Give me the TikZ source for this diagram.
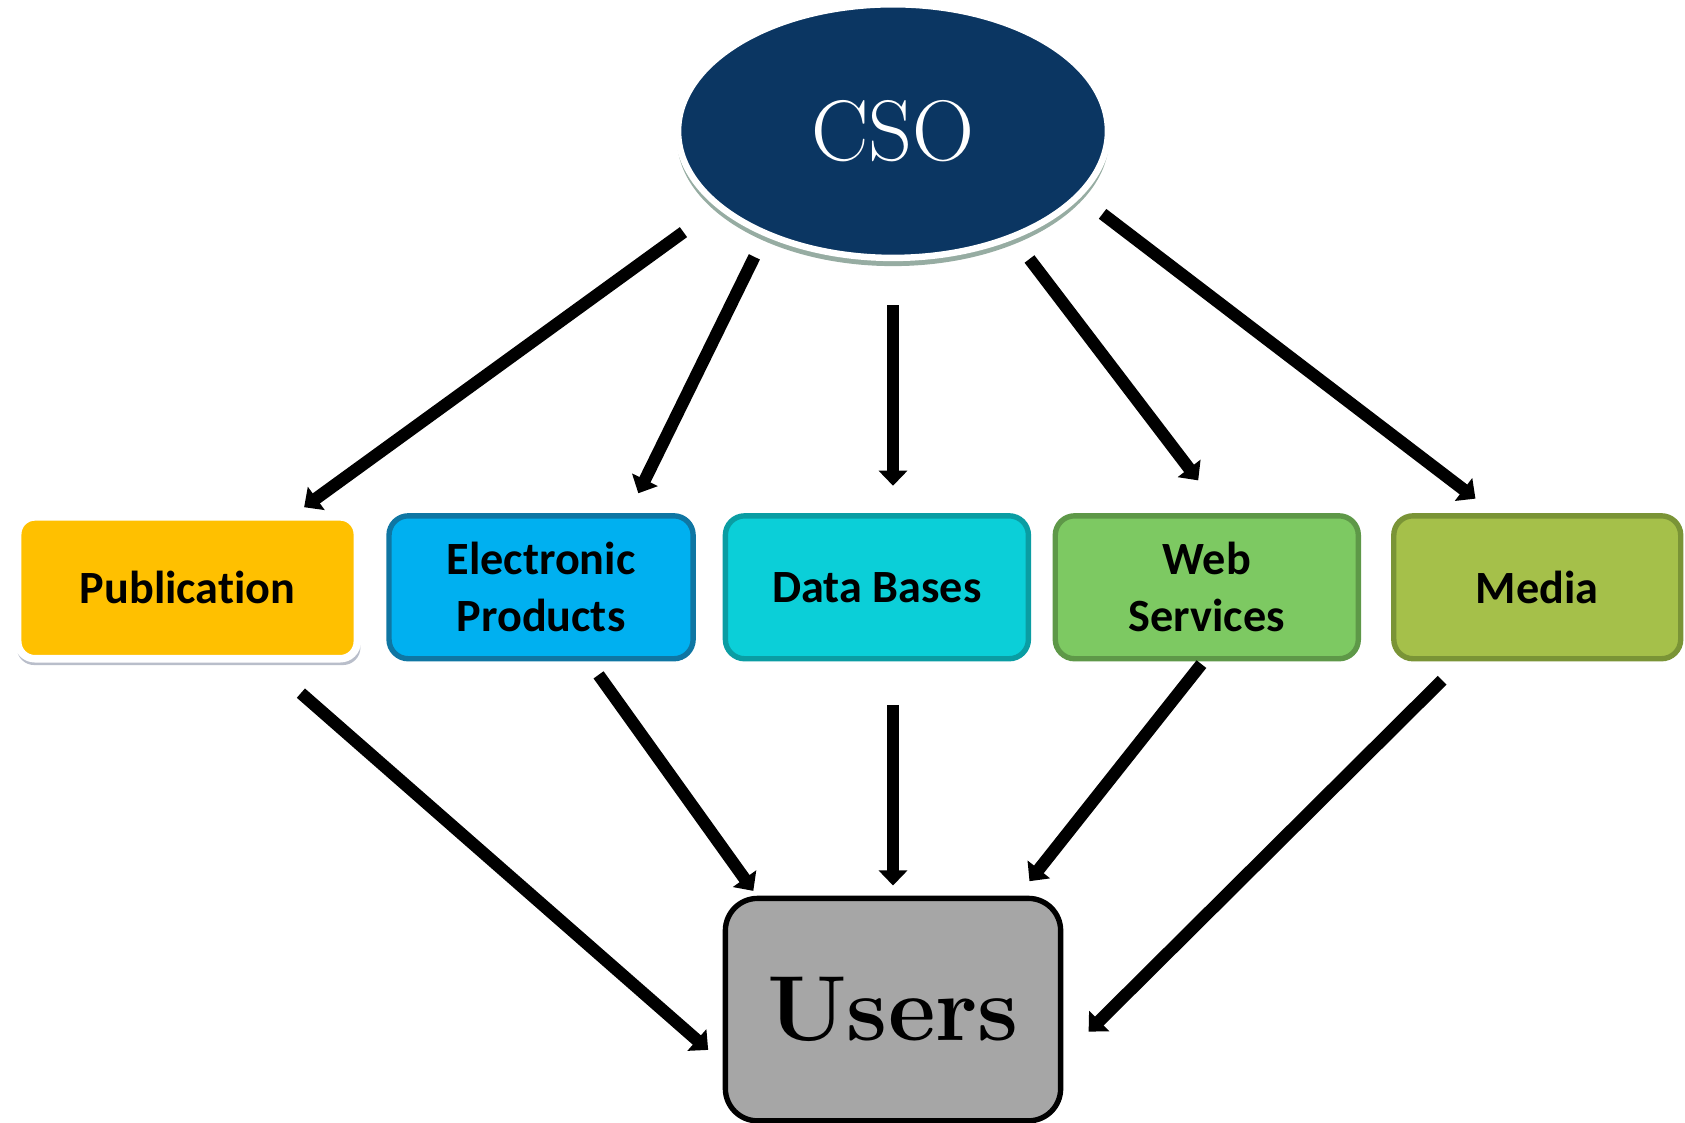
\documentclass[tikz,border=0pt]{standalone}
\usepackage{fontspec}
\newfontfamily\calib[Ligatures=NoCommon]{Carlito}
\usetikzlibrary{arrows.meta,shadows,shapes.geometric}
\definecolor{csoblue}{HTML}{0B3662}
\definecolor{csoshadow}{HTML}{5E8070}
\definecolor{pubshadow}{HTML}{7F889E}
\definecolor{pubfill}{HTML}{FFC000}
\definecolor{elecfill}{HTML}{00B0F0}
\definecolor{elecline}{HTML}{0F76A3}
\definecolor{dbfill}{HTML}{0BCFD8}
\definecolor{dbline}{HTML}{0A9DA3}
\definecolor{webfill}{HTML}{7DC962}
\definecolor{webline}{HTML}{5E9848}
\definecolor{medfill}{HTML}{A5C04A}
\definecolor{medline}{HTML}{7A9436}
\definecolor{usrfill}{HTML}{A6A6A6}
\begin{document}
\begin{tikzpicture}[x=1pt,y=-1pt,
  arr/.style={line width=11.5pt,-{Triangle[length=14pt,width=26pt]}},
  box/.style={rectangle, rounded corners=18pt, inner sep=0pt, outer sep=0pt,
    minimum height=133pt, align=center,
    font=\calib\bfseries\fontsize{43}{53}\selectfont, text=black, line width=5pt},
]
\useasboundingbox (0,0) rectangle (1568,1045);

% CSO
\node[ellipse, fill=csoblue, draw=white, line width=6pt, minimum width=400pt, minimum height=236pt,
  inner sep=0pt, outer sep=0pt,
  drop shadow={shadow xshift=0pt, shadow yshift=-7pt, shadow scale=1.005, opacity=0.65, fill=csoshadow},
  text=white, font=\fontsize{80}{90}\selectfont] (cso) at (831,122) {CSO};

% middle boxes
\node[box, fill=pubfill, draw=white, line width=7pt, minimum width=316pt, minimum height=132pt,
  rounded corners=16pt,
  drop shadow={shadow xshift=1pt, shadow yshift=-5pt, shadow scale=1.012, opacity=0.55, fill=pubshadow}] (pub) at (174.5,547) {Publication};
\node[box, fill=elecfill, draw=elecline, minimum width=283pt] (elec) at (503.5,546.5) {Electronic\\Products};
\node[box, fill=dbfill, draw=dbline, minimum width=282pt] (db) at (816,546.5) {Data Bases};
\node[box, fill=webfill, draw=webline, minimum width=282pt] (web) at (1123,546.5) {Web\\Services};
\node[box, fill=medfill, draw=medline, minimum width=267pt] (med) at (1430.5,546.5) {Media};

% Users
\node[rectangle, rounded corners=30pt, fill=usrfill, draw=black, line width=5pt,
  minimum width=312pt, minimum height=207pt, inner sep=0pt, outer sep=0pt,
  font=\bfseries\fontsize{86}{96}\selectfont] (usr) at (831,939.5) {Users};

% arrows CSO -> boxes
\draw[arr] ([shift={(-195,94)}]cso.center) -- ([shift={(108.5,-75)}]pub.center);
\draw[arr] ([shift={(-129,117)}]cso.center) -- ([shift={(90.5,-87.5)}]elec.center);
\draw[arr] ([shift={(0,162)}]cso.center) -- ([shift={(15,-94.5)}]db.center);
\draw[arr] ([shift={(127,119)}]cso.center) -- ([shift={(-8,-99.5)}]web.center);
\draw[arr] ([shift={(195,77)}]cso.center) -- ([shift={(-57.5,-82.5)}]med.center);

% arrows boxes -> Users
\draw[arr] ([shift={(105.5,98)}]pub.center) -- ([shift={(-172,37.5)}]usr.center);
\draw[arr] ([shift={(53.5,81.5)}]elec.center) -- ([shift={(-130,-110.5)}]usr.center);
\draw[arr] ([shift={(15,109.5)}]db.center) -- ([shift={(0,-115.5)}]usr.center);
\draw[arr] ([shift={(-5,71.5)}]web.center) -- ([shift={(127,-119.5)}]usr.center);
\draw[arr] ([shift={(-88.5,86.5)}]med.center) -- ([shift={(182,20.5)}]usr.center);
\end{tikzpicture}
\end{document}
